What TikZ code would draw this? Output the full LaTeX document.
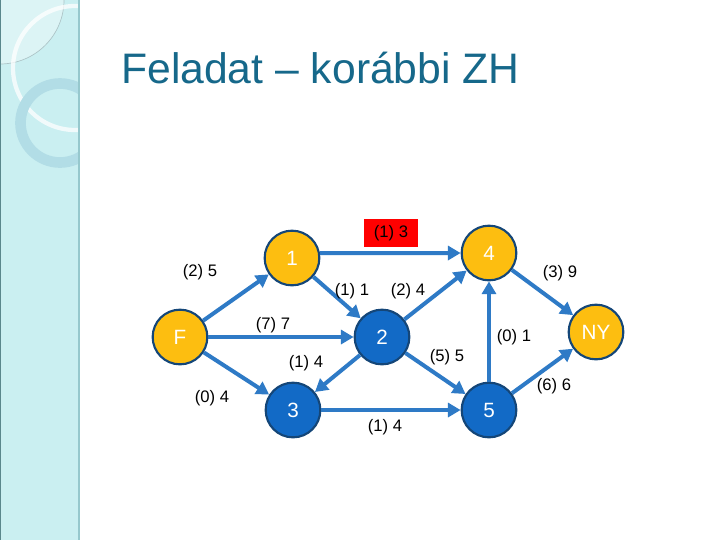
\documentclass[tikz,border=0pt]{standalone}
\usepackage{fontspec}
\setmainfont{Liberation Sans}
\usetikzlibrary{arrows.meta}
\definecolor{side}{RGB}{202,239,241}
\definecolor{sideedge}{RGB}{150,200,205}
\definecolor{sidedark}{RGB}{90,135,140}
\definecolor{ringc}{RGB}{178,221,230}
\definecolor{titlec}{RGB}{22,104,138}
\definecolor{orangen}{RGB}{253,190,16}
\definecolor{bluen}{RGB}{18,106,198}
\definecolor{bordern}{RGB}{20,70,120}
\definecolor{edgec}{RGB}{46,122,198}
\begin{document}
\begin{tikzpicture}[x=0.75pt,y=-0.75pt,
  vtx/.style={circle,minimum size=41pt,inner sep=0pt,draw=bordern,line width=1.6pt,text=white,font=\fontsize{15.5}{16}\selectfont},
  onode/.style={vtx,fill=orangen},
  bnode/.style={vtx,fill=bluen},
  lbl/.style={font=\fontsize{12.5}{13}\selectfont,text=black,inner sep=1pt},
  arc/.style={draw=edgec,line width=3pt,-{Triangle[length=9.5pt,width=10.5pt]}}]
\useasboundingbox (0,0) rectangle (720,540);
\fill[white] (0,0) rectangle (720,540);
% sidebar
\begin{scope}
\clip (0,0) rectangle (79,540);
\fill[side] (0,0) rectangle (79,540);
\fill[white,opacity=0.35] (0,0) circle (64);
\draw[sidedark!50,line width=0.5pt] (0,0) circle (64);
\draw[white,opacity=0.75,line width=3.2pt] (75,68) circle (62);
\draw[ringc,line width=8pt] (60,123) circle (39.5);
\end{scope}
\draw[sideedge,line width=1.5pt] (78.5,0) -- (78.5,540);
\draw[sidedark,line width=1.2pt] (0.6,0) -- (0.6,540);
% title
\node[anchor=base west,inner sep=0pt,text=titlec,font=\fontsize{32}{36}\selectfont] (title) at (121,83) {Feladat – korábbi ZH};
% nodes
\node[onode] (F) at (180,337) {F};
\node[onode] (n1) at (292,258) {1};
\node[bnode] (n2) at (382,337) {2};
\node[bnode] (n3) at (293,410) {3};
\node[onode] (n4) at (489,253) {4};
\node[bnode] (n5) at (489,410) {5};
\node[onode] (NY) at (596,332) {NY};
% edges
\draw[arc] (F) -- (n1);
\draw[arc] (F) -- (n2);
\draw[arc] (F) -- (n3);
\draw[arc] (n1.10) -- (n4.west);
\draw[arc] (n1) -- (n2);
\draw[arc] (n2) -- (n4);
\draw[arc] (n2) -- (n3);
\draw[arc] (n2) -- (n5);
\draw[arc] (n3) -- (n5);
\draw[arc] (n5) -- (n4);
\draw[arc] (n4) -- (NY);
\draw[arc] (n5) -- (NY);
% labels
\node[lbl,fill=red,minimum width=40pt,minimum height=21pt,anchor=center] (l13) at (391,233) {(1) 3};
\node[lbl] (l25) at (200,272) {(2) 5};
\node[lbl] (l11) at (352,291) {(1) 1};
\node[lbl] (l24) at (408,291) {(2) 4};
\node[lbl] (l77) at (273,325) {(7) 7};
\node[lbl] (l14a) at (306,363) {(1) 4};
\node[lbl] (l04) at (212,398) {(0) 4};
\node[lbl] (l14b) at (385,427) {(1) 4};
\node[lbl] (l55) at (447,357) {(5) 5};
\node[lbl] (l01) at (514,337) {(0) 1};
\node[lbl] (l39) at (560,273) {(3) 9};
\node[lbl] (l66) at (554,386) {(6) 6};
\end{tikzpicture}
\end{document}
